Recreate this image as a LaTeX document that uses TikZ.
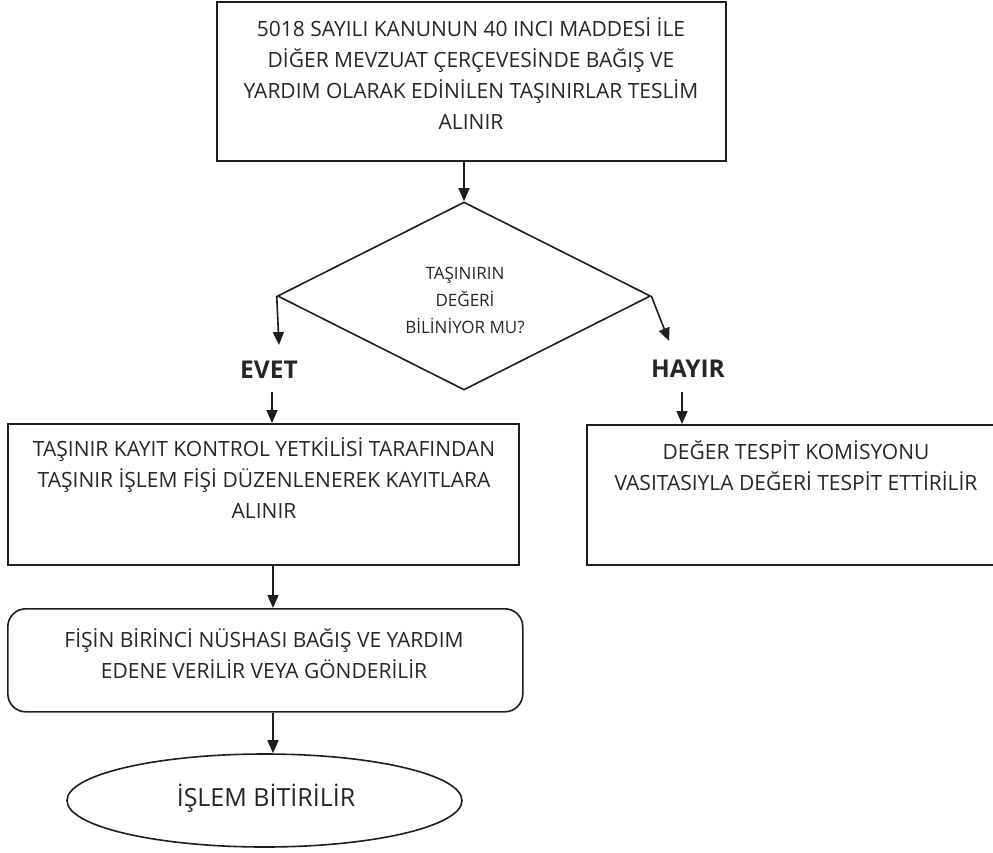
\documentclass[tikz,border=0pt]{standalone}
\usepackage{fontspec}
\setmainfont{Open Sans}
\usetikzlibrary{shapes.geometric,arrows.meta}
\definecolor{ink}{HTML}{1E1E1E}
\definecolor{txt}{HTML}{262626}
\begin{document}
\begin{tikzpicture}[x=1pt,y=-1pt,
  line/.style={draw=ink,line width=1.6pt},
  arr/.style={draw=ink,line width=1.6pt,-{Triangle[length=13pt,width=11pt]}},
  boxshape/.style={line,rectangle,inner sep=0pt,anchor=north west},
  body/.style={text=txt,align=center,font=\fontsize{21}{31}\selectfont,inner sep=0pt},
  small/.style={text=txt,align=center,font=\fontsize{17}{27}\selectfont,inner sep=0pt},
  answer/.style={text=txt,font=\fontsize{24.5}{30}\selectfont\bfseries,inner sep=0pt},
  endtext/.style={text=txt,font=\fontsize{25}{30}\selectfont,inner sep=0pt}]
\useasboundingbox (0,0) rectangle (993,852);

% shapes
\node[boxshape,minimum width=509pt,minimum height=159pt] (top) at (216,1) {};
\node[line,diamond,inner sep=0pt,minimum width=373pt,minimum height=188pt] (dec) at (464,296) {};
\node[boxshape,minimum width=511pt,minimum height=141pt] (left) at (7,423) {};
\node[boxshape,minimum width=420pt,minimum height=140pt] (right) at (586,424) {};
\node[boxshape,rounded corners=18pt,minimum width=515pt,minimum height=103pt] (round) at (7,608) {};
\node[line,ellipse,inner sep=0pt,minimum width=395pt,minimum height=93pt] (end) at (264.5,800.5) {};

% texts
\node[body] (toptxt) at (471,74) {5018 SAYILI KANUNUN 40 INCI MADDESİ İLE\\DİĞER MEVZUAT ÇERÇEVESİNDE BAĞIŞ VE\\YARDIM OLARAK EDİNİLEN TAŞINIRLAR TESLİM\\ALINIR};
\node[small] (dectxt) at (465,300) {TAŞINIRIN\\DEĞERİ\\BİLİNİYOR MU?};
\node[answer] (evet) at (269,370) {EVET};
\node[answer] (hayir) at (688,369) {HAYIR};
\node[body] (lefttxt) at (264,478) {TAŞINIR KAYIT KONTROL YETKİLİSİ TARAFINDAN\\TAŞINIR İŞLEM FİŞİ DÜZENLENEREK KAYITLARA\\ALINIR};
\node[body] (righttxt) at (796,466) {DEĞER TESPİT KOMİSYONU\\VASITASIYLA DEĞERİ TESPİT ETTİRİLİR};
\node[body] (roundtxt) at (264,654) {FİŞİN BİRİNCİ NÜSHASI BAĞIŞ VE YARDIM\\EDENE VERİLİR VEYA GÖNDERİLİR};
\node[endtext] (endtxt) at (266,798) {İŞLEM BİTİRİLİR};

% connector helpers
\coordinate (evtip) at (279,345);
\coordinate (hytip) at (669,341);
\coordinate (evstart) at (272,392);
\coordinate (hystart) at (682,392);
\coordinate (colL) at (273,0);

% connectors
\draw[arr] (top.south -| dec.north) -- (dec.north);
\draw[arr] (dec.west) -- (evtip);
\draw[arr] (dec.east) -- (hytip);
\draw[arr] (evstart) -- (evstart |- left.north);
\draw[arr] (hystart) -- (hystart |- right.north);
\draw[arr] (left.south -| colL) -- (round.north -| colL);
\draw[arr] (round.south -| colL) -- (end.north -| colL);
\end{tikzpicture}
\end{document}
